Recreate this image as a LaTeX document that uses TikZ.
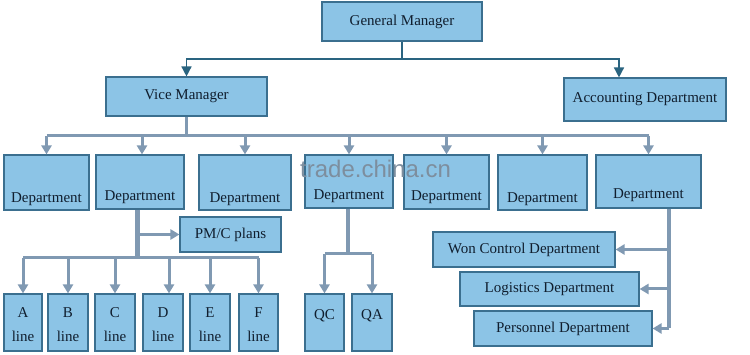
\documentclass[tikz,border=0pt]{standalone}
\usepackage{fontspec}
\setmainfont{Liberation Serif}
\newfontfamily\wmfont{Liberation Sans}
\usetikzlibrary{arrows.meta}
\definecolor{boxfill}{HTML}{8CC4E6}
\definecolor{boxdraw}{HTML}{3B6F8F}
\definecolor{topc}{HTML}{2A6480}
\definecolor{connc}{HTML}{8099B2}
\definecolor{txt}{HTML}{101E2E}
\definecolor{wmark}{HTML}{7D8E9E}
\tikzset{
  box/.style={draw=boxdraw, line width=1.1pt, fill=boxfill, inner sep=0pt,
    text=txt, font=\fontsize{15}{18}\selectfont, align=center},
  topconn/.style={draw=topc, line width=1.5pt},
  toparrow/.style={topconn, -{Triangle[width=10pt,length=10pt]}},
  conn/.style={draw=connc, line width=3pt},
  connarrow/.style={conn, -{Triangle[width=10pt,length=9pt]}},
  stem/.style={draw=connc, line width=5pt},
  dtxt/.style={anchor=center, yshift=12pt, text=txt, font=\fontsize{15}{18}\selectfont},
  ltxt/.style={anchor=center, yshift=-31pt, text=txt, align=center, font=\fontsize{15}{18}\selectfont}
}
\begin{document}
\begin{tikzpicture}[x=1pt,y=-1pt]
\useasboundingbox (0,0) rectangle (750,355);
% top levels
\node[box, minimum width=160pt, minimum height=39pt] (gm) at (402,21.5) {General Manager};
\node[box, minimum width=161pt, minimum height=39pt] (vm) at (186.5,96.5) {Vice Manager};
\node[box, minimum width=162pt, minimum height=43pt] (acc) at (645,99.5) {Accounting Department};
% department row
\node[box, minimum width=85pt, minimum height=55pt, label={[dtxt,yshift=-1pt]south:Department}] (d1) at (46.5,182.5) {};
\node[box, minimum width=88pt, minimum height=54pt, label={[dtxt]south:Department}] (d2) at (140,182) {};
\node[box, minimum width=92pt, minimum height=55pt, label={[dtxt,yshift=-1pt]south:Department}] (d3) at (245,182.5) {};
\node[box, minimum width=88pt, minimum height=53pt, label={[dtxt]south:Department}] (d4) at (349,181.5) {};
\node[box, minimum width=85pt, minimum height=54pt, label={[dtxt]south:Department}] (d5) at (446.5,182) {};
\node[box, minimum width=89pt, minimum height=55pt, label={[dtxt,yshift=-1pt]south:Department}] (d6) at (542.5,182.5) {};
\node[box, minimum width=105pt, minimum height=53pt, label={[dtxt,yshift=1pt]south:Department}] (d7) at (648.5,181.5) {};
% watermark
\node[anchor=base west, inner sep=0pt, text=wmark, font=\fontsize{24}{24}\wmfont] (wm) at (300,178) {trade.china.cn};
% PM/C plans
\node[box, minimum width=101pt, minimum height=35pt] (pm) at (230.5,234.5) {PM/C plans};
% lines
\node[box, minimum width=38pt, minimum height=57pt, label={[ltxt]north:A\\[6pt]line}] (la) at (23,322.5) {};
\node[box, minimum width=40pt, minimum height=57pt, label={[ltxt]north:B\\[6pt]line}] (lb) at (68,322.5) {};
\node[box, minimum width=40pt, minimum height=57pt, label={[ltxt]north:C\\[6pt]line}] (lc) at (115,322.5) {};
\node[box, minimum width=40pt, minimum height=57pt, label={[ltxt]north:D\\[6pt]line}] (ld) at (163,322.5) {};
\node[box, minimum width=40pt, minimum height=57pt, label={[ltxt]north:E\\[6pt]line}] (le) at (210,322.5) {};
\node[box, minimum width=39pt, minimum height=57pt, label={[ltxt]north:F\\[6pt]line}] (lf) at (258.5,322.5) {};
\node[box, minimum width=39pt, minimum height=57pt, label={[dtxt,yshift=-34pt]north:QC}] (qc) at (324.5,322.5) {};
\node[box, minimum width=40pt, minimum height=57pt, label={[dtxt,yshift=-34pt]north:QA}] (qa) at (372,322.5) {};
% right side departments
\node[box, minimum width=182pt, minimum height=35pt] (won) at (524,249.5) {Won Control Department};
\node[box, minimum width=179pt, minimum height=34pt] (log) at (549.5,289) {Logistics Department};
\node[box, minimum width=178pt, minimum height=35pt] (per) at (563,328.5) {Personnel Department};
% coordinates
\coordinate (gmbus) at (402,59);
\coordinate (vmbus) at (186.5,136);
\coordinate (d2stem) at (137,258);
\coordinate (d4stem) at (348,254);
\coordinate (d7stem) at (669,329);
% GM connectors
\draw[topconn] (gm.south) -- (gmbus);
\draw[toparrow] (gmbus) -| (vm.north);
\draw[toparrow] (gmbus) -| ([xshift=-26pt]acc.north);
% VM connectors
\draw[conn] (vm.south) -- (vmbus);
\draw[conn] (d1.north |- vmbus) -- (d7.north |- vmbus);
\foreach \d in {d1,d3,d4,d5,d6,d7}
  \draw[connarrow] (\d.north |- vmbus) -- (\d.north);
\draw[connarrow] ([xshift=2pt]d2.north |- vmbus) -- ([xshift=2pt]d2.north);
% Dept 2 branch
\draw[stem] (d2.south -| d2stem) -- ([yshift=-1.5pt]d2stem);
\draw[connarrow] (d2stem |- pm.west) -- (pm.west);
\draw[conn] (la.north |- d2stem) -- (lf.north |- d2stem);
\foreach \l in {la,lb,lc,le,lf}
  \draw[connarrow] (\l.north |- d2stem) -- (\l.north);
\draw[connarrow] ([xshift=6pt]ld.north |- d2stem) -- ([xshift=6pt]ld.north);
% Dept 4 branch
\draw[stem, line width=3.6pt] (d4.south -| d4stem) -- ([yshift=-1.5pt]d4stem);
\draw[conn] (qc.north |- d4stem) -- (qa.north |- d4stem);
\draw[connarrow] (qc.north |- d4stem) -- (qc.north);
\draw[connarrow] (qa.north |- d4stem) -- (qa.north);
% Dept 7 branch
\draw[stem, line width=3.6pt] (d7.south -| d7stem) -- (d7stem |- per.east);
\draw[connarrow] (d7stem |- won.east) -- (won.east);
\draw[connarrow] (d7stem |- log.east) -- (log.east);
\draw[connarrow] (d7stem |- per.east) -- (per.east);
\end{tikzpicture}
\end{document}
